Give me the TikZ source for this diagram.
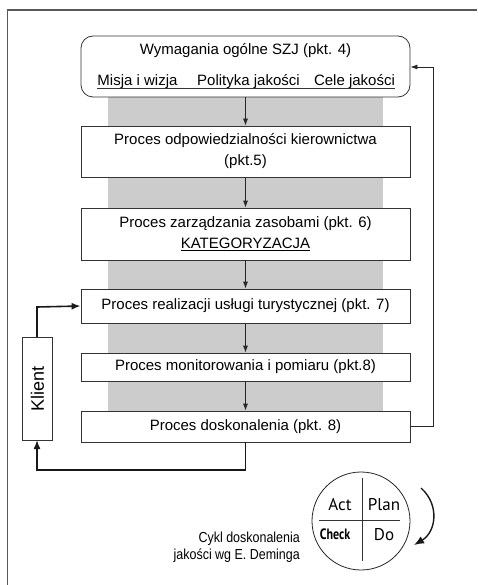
\documentclass[tikz,border=0pt]{standalone}
\usepackage{fontspec}
\setmainfont{Liberation Sans}
\newfontfamily\pdcafont{PT Sans}
\newfontfamily\pdcabold{PT Sans Bold}
\usetikzlibrary{arrows.meta}
\begin{document}
\begin{tikzpicture}[x=1pt,y=-1pt,
  box/.style={draw=black!80,line width=0.8pt,minimum width=329pt,inner sep=0pt,align=center,font=\fontsize{15}{21}\selectfont,fill=white},
  conn/.style={draw=black!85,line width=0.8pt,-{Latex[length=7pt,width=5pt]}},
  thick conn/.style={draw=black!90,line width=1.6pt,-{Latex[length=9pt,width=7pt]}},
  frame/.style={draw=black!65,line width=1.3pt},
  lbl/.style={inner sep=0pt,font=\fontsize{15}{18}\selectfont},
  pdca/.style={inner sep=0pt,font=\pdcafont\fontsize{17}{19}\selectfont}]
\useasboundingbox (0,0) rectangle (477,585);
% frame
\draw[frame] (7.5,585) -- (7.5,10) -- (477,10);
% grey band
\fill[black!20] (108,97) rectangle (383,411);
% boxes
\node[box,rounded corners=12pt,minimum height=61pt] (b1) at (245.5,66.5) {};
\node[lbl] (t1) at (245.5,51) {Wymagania ogólne SZJ (pkt. 4)};
\node[lbl,anchor=base] (m1) at (137.5,86) {Misja i wizja};
\node[lbl,anchor=base] (m2) at (248.5,86) {Polityka jakości};
\node[lbl,anchor=base] (m3) at (354.5,86) {Cele jakości};
\draw[black!80,line width=0.7pt] ([yshift=-2pt]m1.base west) -- ([yshift=-2pt]m3.base east);
\node[box,minimum height=51pt] (b2) at (245.5,151.5) {Proces odpowiedzialności kierownictwa\\(pkt.5)};
\node[box,minimum height=52pt] (b3) at (245.5,234) {Proces zarządzania zasobami (pkt. 6)\\\underline{KATEGORYZACJA}};
\node[box,minimum height=34pt] (b4) at (245.5,306) {Proces realizacji usługi turystycznej (pkt. 7)};
\node[box,minimum height=28pt] (b5) at (245.5,367) {Proces monitorowania i pomiaru (pkt.8)};
\node[box,minimum height=31pt] (b6) at (245.5,426.5) {Proces doskonalenia (pkt. 8)};
\node[draw=black!80,line width=0.8pt,minimum width=103pt,minimum height=30pt,inner sep=0pt,rotate=90,font=\fontsize{18}{20}\selectfont] (kl) at (37.5,388.5) {Klient};
% vertical arrows
\draw[conn] (b1.south) -- (b2.north);
\draw[conn] (b2.south) -- (b3.north);
\draw[conn] (b3.south) -- (b4.north);
\draw[conn] (b4.south) -- (b5.north);
\draw[conn] (b5.south) -- (b6.north);
% feedback
\draw[conn] (b6.east) -- (433,426.5) -- (433,67) -- (b1.east |- 0,67);
% client loop
\coordinate (kt) at (37,337);
\coordinate (kb) at (37,440);
\draw[thick conn] (kt) -- (37,307) -- (b4.west);
\draw[thick conn] (b6.south) -- (245.5,470) -- (37,470) -- (kb);
% PDCA
\node[draw=black!85,line width=0.8pt,circle,minimum size=98pt,inner sep=0pt] (pd) at (361,521) {};
\draw[black!80,line width=0.9pt] (362,478) -- (362,561);
\draw[black!80,line width=0.9pt] (319,520) -- (400,520);
\node[pdca] (act) at (340,505) {Act};
\node[pdca] (plan) at (384,505) {Plan};
\node[inner sep=0pt,font=\pdcabold\fontsize{15}{17}\selectfont] (chk) at (335,534) {\scalebox{0.8}[1]{Check}};
\node[pdca] (do) at (384,535) {Do};
\coordinate (ca) at (421,488);
\coordinate (cb) at (414,545);
\draw[line width=1.4pt,black!90,-{Latex[length=10pt,width=8pt]}] (ca) .. controls (440,505) and (436,532) .. (cb);
\node[anchor=east,inner sep=0pt] (cap) at (300,548) {\fontsize{14.5}{17}\selectfont\scalebox{0.86}[1]{\begin{tabular}{@{}r@{}}Cykl doskonalenia\\jakości wg E. Deminga\end{tabular}}};
\end{tikzpicture}
\end{document}
